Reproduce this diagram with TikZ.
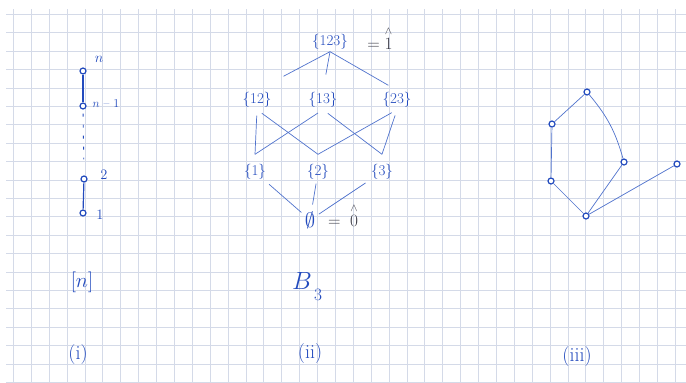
\documentclass[tikz,border=0pt]{standalone}
\usepackage{amsmath}
\definecolor{ink}{RGB}{35,75,190}
\definecolor{pen}{RGB}{80,115,205}
\definecolor{gridc}{RGB}{212,218,232}
\definecolor{pencil}{RGB}{60,60,70}
\begin{document}
\begin{tikzpicture}[x=1pt,y=-1pt,
  dot/.style={circle,draw=ink,fill=white,line width=1.2pt,minimum size=6pt,inner sep=0pt},
  lbl/.style={text=ink,font=\fontsize{14}{16}\selectfont,inner sep=1pt},
  setn/.style={text=ink,font=\fontsize{15}{17}\selectfont,inner sep=2pt},
  captxt/.style={text=ink,font=\fontsize{20}{22}\selectfont,inner sep=1pt},
  eqn/.style={text=pencil,font=\fontsize{16}{18}\selectfont,inner sep=1pt},
  edge/.style={draw=pen,line width=0.7pt},
  chain/.style={draw=ink,line width=1.2pt}]
\useasboundingbox (0,0) rectangle (686,383);
\fill[white] (0,0) rectangle (686,383);
\foreach \i in {0,...,37} \draw[gridc,line width=0.6pt] ({13.3+17.89*\i},9) -- ({13.3+17.89*\i},383);
\foreach \j in {0,...,20} \draw[gridc,line width=0.6pt] (6,{14.3+18.4*\j}) -- (686,{14.3+18.4*\j});

% (i) chain
\node[dot] (cn) at (83,71) {};
\node[dot] (cn1) at (83,106) {};
\node[dot] (c2) at (84,179) {};
\node[dot] (c1) at (83,213) {};
\draw[chain] (cn) -- (cn1);
\draw[chain] (c2) -- (c1);
\draw[chain,line width=0.9pt,dash pattern=on 3pt off 8pt,shorten >=16pt,shorten <=4pt] (cn1) -- (c2);
\node[lbl] (ln) at (99,59) {$n$};
\node[lbl,font=\fontsize{12}{14}\selectfont] (ln1) at (106,104) {$n\text{ -- }1$};
\node[lbl] (l2) at (104,175) {$2$};
\node[lbl] (l1) at (100,215) {$1$};
\node[captxt] (brn) at (82,282) {$[n]$};
\node[captxt] (ci) at (78,355) {(i)};

% (ii) Boolean lattice B_3
\node[setn] (s123) at (330,42) {\{123\}};
\node[eqn] (one) at (380,38) {$=\overset{\wedge}{1}$};
\node[setn] (s12) at (257,100) {\{12\}};
\node[setn] (s13) at (323,100) {\{13\}};
\node[setn] (s23) at (397,100) {\{23\}};
\node[setn] (s1) at (255,172) {\{1\}};
\node[setn] (s2) at (318,172) {\{2\}};
\node[setn] (s3) at (382,172) {\{3\}};
\node[text=ink,font=\fontsize{22}{24}\selectfont,inner sep=1pt] (s0) at (310,220) {$\emptyset$};
\node[eqn] (zero) at (343,215) {$=\ \overset{\wedge}{0}$};

\draw[edge,shorten >=30pt] (s123.south) -- (s12.north);
\draw[edge,shorten >=16pt] (s123.south) -- (s13.north);
\draw[edge,shorten >=10pt] (s123.south) -- (s23.north);

\draw[edge,shorten <=6pt] (s12.south) -- ([yshift=8pt]s1.north);
\draw[edge,shorten <=6pt] (s12.south) -- ([yshift=8pt]s2.north);
\draw[edge,shorten <=6pt] (s13.south) -- ([yshift=8pt]s1.north);
\draw[edge,shorten <=6pt] (s13.south) -- ([yshift=8pt]s3.north);
\draw[edge,shorten <=6pt] (s23.south) -- ([yshift=8pt]s2.north);
\draw[edge,shorten <=6pt] (s23.south) -- ([yshift=8pt]s3.north);

\draw[edge,shorten <=4pt,shorten >=3pt] (s1) -- (s0);
\draw[edge,shorten <=2pt,shorten >=6pt] (s2) -- (s0);
\draw[edge,shorten <=4pt,shorten >=3pt] (s3) -- (s0);

\node[text=ink,font=\fontsize{30}{32}\selectfont,inner sep=0pt] (bb) at (302,281) {$B$};
\node[text=ink,font=\fontsize{17}{19}\selectfont,inner sep=0pt] (b3) at (318,295) {$3$};
\node[captxt] (cii) at (310,354) {(ii)};

% (iii)
\node[dot] (p1) at (587,92) {};
\node[dot] (p2) at (552,124) {};
\node[dot] (p3) at (551,181) {};
\node[dot] (p4) at (586,216) {};
\node[dot] (p5) at (624,162) {};
\node[dot] (p6) at (677,164) {};
\draw[edge] (p1) -- (p2);
\draw[edge] (p2) -- (p3);
\draw[edge] (p3) -- (p4);
\draw[edge] (p4) -- (p5);
\draw[edge] (p1) to[bend left=12] (p5);
\draw[edge] (p4) -- (p6);
\node[captxt] (ciii) at (577,357) {(iii)};
\end{tikzpicture}
\end{document}
